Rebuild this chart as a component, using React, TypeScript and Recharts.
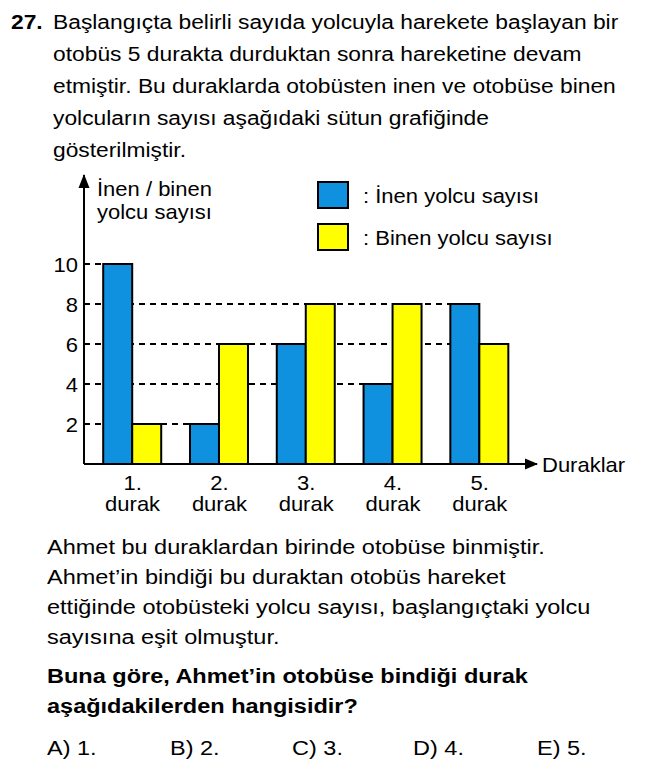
import React from 'react';
import { BarChart, Bar, XAxis, YAxis, ReferenceLine, ReferenceDot, Legend } from 'recharts';

const FONT = '"Liberation Sans", Arial, Helvetica, sans-serif';

const stops = [1, 2, 3, 4, 5];
const stopLabels = ['1.', '2.', '3.', '4.', '5.'];
const stopWord = 'durak';
const inenValues = [10, 2, 6, 4, 8];
const binenValues = [2, 6, 8, 8, 6];
const yTicks = [2, 4, 6, 8, 10];
const gridLevels = [2, 4, 6, 8, 10];
const gridEndStops = [2, 4, 5, 5, 1];
const seriesNames = ['İnen yolcu sayısı', 'Binen yolcu sayısı'];
const seriesColors = ['#0F91DF', '#FFFF00'];
const yAxisTitle = ['İnen / binen', 'yolcu sayısı'];
const xAxisTitle = 'Duraklar';

const questionNumber = '27.';
const introLines = [
  'Başlangıçta belirli sayıda yolcuyla harekete başlayan bir',
  'otobüs 5 durakta durduktan sonra hareketine devam',
  'etmiştir. Bu duraklarda otobüsten inen ve otobüse binen',
  'yolcuların sayısı aşağıdaki sütun grafiğinde',
  'gösterilmiştir.',
];
const bodyLines = [
  'Ahmet bu duraklardan birinde otobüse binmiştir.',
  'Ahmet’in bindiği bu duraktan otobüs hareket',
  'ettiğinde otobüsteki yolcu sayısı, başlangıçtaki yolcu',
  'sayısına eşit olmuştur.',
];
const questionLines = [
  'Buna göre, Ahmet’in otobüse bindiği durak',
  'aşağıdakilerden hangisidir?',
];
const answers = ['A) 1.', 'B) 2.', 'C) 3.', 'D) 4.', 'E) 5.'];
const answerLefts = [47, 170, 292, 413, 537];

const X_MIN = 0.44;
const X_MAX = 5.66;
const Y_MAX = 14.45;
const SX = 1.1;
const CFS = 20;

const data = stops.map((s, i) => ({
  stop: s,
  label: stopLabels[i],
  inen: inenValues[i],
  binen: binenValues[i],
}));

const XTick = (props: any) => {
  const { x, y, payload } = props;
  const idx = stops.indexOf(payload.value);
  return (
    <g transform={`translate(${x},${y})`}>
      <text transform={`scale(${SX},1)`} textAnchor="middle" fontSize={CFS} fontFamily={FONT} fill="#000">
        <tspan x={0} y={26}>{stopLabels[idx]}</tspan>
        <tspan x={0} y={47}>{stopWord}</tspan>
      </text>
    </g>
  );
};

const YTick = (props: any) => {
  const { x, y, payload } = props;
  return (
    <g transform={`translate(${x},${y + 8})`}>
      <text transform={`scale(${SX},1)`} textAnchor="end" fontSize={CFS} fontFamily={FONT} fill="#000">
        {payload.value}
      </text>
    </g>
  );
};

const YTitle = (props: any) => {
  const vb = props.viewBox || { x: 44, y: 15, width: 40, height: 289 };
  const x = vb.x + vb.width + 13;
  return (
    <g>
      {yAxisTitle.map((t, i) => (
        <g key={i} transform={`translate(${x},${vb.y + 21 + i * 23})`}>
          <text transform={`scale(${SX},1)`} fontSize={CFS} fontFamily={FONT} fill="#000">{t}</text>
        </g>
      ))}
    </g>
  );
};

const XTitle = (props: any) => {
  const vb = props.viewBox || { x: 84, y: 304, width: 453, height: 40 };
  return (
    <g transform={`translate(${vb.x + vb.width + 5},${vb.y + 8})`}>
      <text transform={`scale(${SX},1)`} fontSize={CFS} fontFamily={FONT} fill="#000">{xAxisTitle}</text>
    </g>
  );
};

const RightArrow = (props: any) => {
  const { cx, cy } = props;
  return <path d={`M${cx + 1},${cy} L${cx - 12},${cy - 5.5} L${cx - 12},${cy + 5.5} Z`} fill="#000" />;
};

const UpArrow = (props: any) => {
  const { cx, cy } = props;
  return <path d={`M${cx},${cy - 1} L${cx - 5.5},${cy + 13} L${cx + 5.5},${cy + 13} Z`} fill="#000" />;
};

const LegendContent = (props: any) => {
  const payload = props.payload || [];
  void payload;
  const items = seriesNames.map((n, i) => ({ name: n, color: seriesColors[i] }));
  return (
    <div style={{ position: 'relative', width: 260, height: 80, fontFamily: FONT }}>
      {items.map((e, i) => (
        <div
          key={i}
          style={{ position: 'absolute', left: 0, top: i * 42, display: 'flex', alignItems: 'center', height: 28 }}
        >
          <div style={{ width: 28, height: 24, border: '2px solid #000', background: e.color }} />
          <span
            style={{
              marginLeft: 14,
              fontSize: CFS,
              whiteSpace: 'nowrap',
              display: 'inline-block',
              transform: `scaleX(${SX})`,
              transformOrigin: 'left center',
              color: '#000',
              position: 'relative',
              top: 1,
            }}
          >
            : {e.name}
          </span>
        </div>
      ))}
    </div>
  );
};

const lineStyle = (size: number, lh: number, sx: number, bold = false): React.CSSProperties => ({
  fontSize: size,
  lineHeight: `${lh}px`,
  whiteSpace: 'pre',
  transform: `scaleX(${sx})`,
  transformOrigin: 'left top',
  fontWeight: bold ? 'bold' : 'normal',
});

export default function App() {
  return (
    <div
      style={{
        position: 'absolute',
        left: 0,
        top: 0,
        width: 663,
        height: 773,
        background: '#fff',
        fontFamily: FONT,
        color: '#000',
        overflow: 'hidden',
      }}
    >
      <div style={{ position: 'absolute', left: 11, top: 6, ...lineStyle(20, 32, 1.14, true) }}>{questionNumber}</div>
      <div style={{ position: 'absolute', left: 53, top: 6 }}>
        {introLines.map((l, i) => (
          <div key={i} style={lineStyle(20, 32, 1.14)}>{l}</div>
        ))}
      </div>

      <div style={{ position: 'absolute', left: 0, top: 160 }}>
        <BarChart
          width={663}
          height={370}
          data={data}
          margin={{ top: 15, right: 126, bottom: 26, left: 44 }}
          barGap={0}
          barSize={29}
        >
          <XAxis
            dataKey="stop"
            type="number"
            domain={[X_MIN, X_MAX]}
            ticks={stops}
            allowDataOverflow
            interval={0}
            tick={<XTick />}
            tickLine={false}
            tickSize={0}
            tickMargin={0}
            height={40}
            axisLine={{ stroke: '#000', strokeWidth: 2 }}
            label={<XTitle />}
          />
          <YAxis
            type="number"
            domain={[0, Y_MAX]}
            ticks={yTicks}
            allowDataOverflow
            interval={0}
            width={40}
            tick={<YTick />}
            tickLine={false}
            tickSize={0}
            tickMargin={6}
            axisLine={{ stroke: '#000', strokeWidth: 2 }}
            label={<YTitle />}
          />
          {gridLevels.map((lv, i) => (
            <ReferenceLine
              key={`g${i}`}
              segment={[
                { x: X_MIN, y: lv },
                { x: gridEndStops[i], y: lv },
              ]}
              stroke="#000"
              strokeWidth={2}
              strokeDasharray="6 5"
              ifOverflow="visible"
              zIndex={-10}
            />
          ))}
          <Bar
            dataKey="inen"
            name={seriesNames[0]}
            fill={seriesColors[0]}
            stroke="#000"
            strokeWidth={2}
            isAnimationActive={false}
          />
          <Bar
            dataKey="binen"
            name={seriesNames[1]}
            fill={seriesColors[1]}
            stroke="#000"
            strokeWidth={2}
            isAnimationActive={false}
          />
          <ReferenceDot x={X_MAX} y={0} r={6} shape={RightArrow} ifOverflow="visible" />
          <ReferenceDot x={X_MIN} y={Y_MAX} r={6} shape={UpArrow} ifOverflow="visible" />
          <Legend
            content={LegendContent}
            layout="horizontal"
            verticalAlign="middle"
            align="center"
            wrapperStyle={{ position: 'absolute', left: 317, top: 21, width: 260, height: 80 }}
          />
        </BarChart>
      </div>

      <div style={{ position: 'absolute', left: 47, top: 532 }}>
        {bodyLines.map((l, i) => (
          <div key={i} style={lineStyle(20, 30, 1.175)}>{l}</div>
        ))}
      </div>
      <div style={{ position: 'absolute', left: 47, top: 661 }}>
        {questionLines.map((l, i) => (
          <div key={i} style={lineStyle(20, 30, 1.175, true)}>{l}</div>
        ))}
      </div>
      {answers.map((a, i) => (
        <div key={i} style={{ position: 'absolute', left: answerLefts[i], top: 733, ...lineStyle(20, 30, 1.175) }}>
          {a}
        </div>
      ))}
    </div>
  );
}
